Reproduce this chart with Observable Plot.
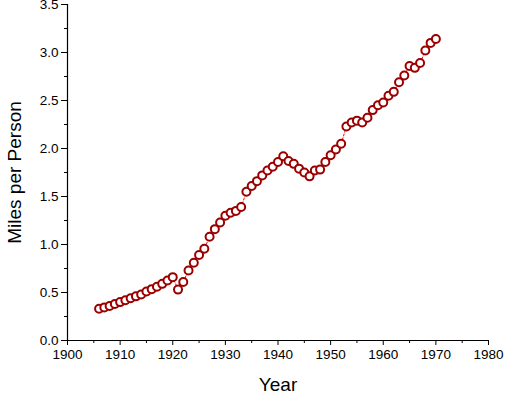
<!DOCTYPE html>
<html>
<head>
<meta charset="utf-8">
<script src="https://cdn.jsdelivr.net/npm/d3@7"></script>
<script src="https://cdn.jsdelivr.net/npm/@observablehq/plot@0.6"></script>
<style>
  html, body { margin: 0; padding: 0; background: #fff; }
  #chart svg { display: block; }
</style>
</head>
<body>
<div id="chart"></div>
<script>
const years = [
  1906,1907,1908,1909,1910,1911,1912,1913,1914,1915,1916,1917,1918,1919,1920,
  1921,1922,1923,1924,1925,1926,1927,1928,1929,1930,1931,1932,1933,1934,1935,
  1936,1937,1938,1939,1940,1941,1942,1943,1944,1945,1946,1947,1948,1949,1950,
  1951,1952,1953,1954,1955,1956,1957,1958,1959,1960,1961,1962,1963,1964,1965,
  1966,1967,1968,1969,1970
];
const milesPerPerson = [
  0.33,0.345,0.36,0.38,0.40,0.42,0.44,0.46,0.48,0.51,0.535,0.56,0.59,0.625,0.66,
  0.53,0.61,0.73,0.81,0.89,0.955,1.08,1.16,1.23,1.30,1.33,1.35,1.39,1.55,1.61,
  1.66,1.72,1.77,1.81,1.86,1.92,1.87,1.84,1.79,1.75,1.71,1.77,1.78,1.86,1.93,
  1.99,2.05,2.23,2.27,2.29,2.27,2.32,2.40,2.45,2.48,2.55,2.59,2.69,2.76,2.86,
  2.84,2.89,3.02,3.10,3.14
];
const xMajorTicks = [1900,1910,1920,1930,1940,1950,1960,1970,1980];
const xMinorTicks = [1905,1915,1925,1935,1945,1955,1965,1975];
const yMajorTicks = [0,0.5,1.0,1.5,2.0,2.5,3.0,3.5];
const yMinorTicks = [0.25,0.75,1.25,1.75,2.25,2.75,3.25];
const xTitle = "Year";
const yTitle = "Miles per Person";

const data = years.map((y, i) => ({year: y, value: milesPerPerson[i]}));

const chart = Plot.plot({
  width: 512,
  height: 398,
  marginLeft: 67,
  marginRight: 24,
  marginTop: 4,
  marginBottom: 58,
  style: {fontFamily: "'Liberation Sans', Arial, sans-serif", fontSize: "13.5px", color: "#000", background: "#fff", overflow: "visible"},
  x: {domain: [1900, 1980], label: null},
  y: {domain: [0, 3.5], label: null},
  marks: [
    Plot.axisX({ticks: xMinorTicks, tickSize: 3, text: null, label: null}),
    Plot.axisX({ticks: xMajorTicks, tickSize: 5, tickPadding: 4, tickFormat: d => String(d), label: null, fontSize: 13.5}),
    Plot.axisY({ticks: yMinorTicks, tickSize: 3, text: null, label: null}),
    Plot.axisY({ticks: yMajorTicks, tickSize: 6, tickPadding: 3, tickFormat: d => d.toFixed(1), label: null, fontSize: 13.5}),
    Plot.ruleY([0], {stroke: "#000", strokeWidth: 1.2}),
    Plot.ruleX([1900], {stroke: "#000", strokeWidth: 1.2}),
    Plot.line(data, {x: "year", y: "value", stroke: "#ff0000", strokeWidth: 1, strokeDasharray: "2,2"}),
    Plot.dot(data, {x: "year", y: "value", r: 4, stroke: "#9b0000", strokeWidth: 2, fill: "#fff"}),
    Plot.text([xTitle], {frameAnchor: "bottom", dy: 50, fontSize: 19, textAnchor: "middle", lineAnchor: "bottom", fill: "#000"}),
    Plot.text([yTitle], {frameAnchor: "left", dx: -53, rotate: -90, fontSize: 19, textAnchor: "middle", lineAnchor: "middle", fill: "#000"})
  ]
});
document.getElementById("chart").appendChild(chart);
</script>
</body>
</html>
